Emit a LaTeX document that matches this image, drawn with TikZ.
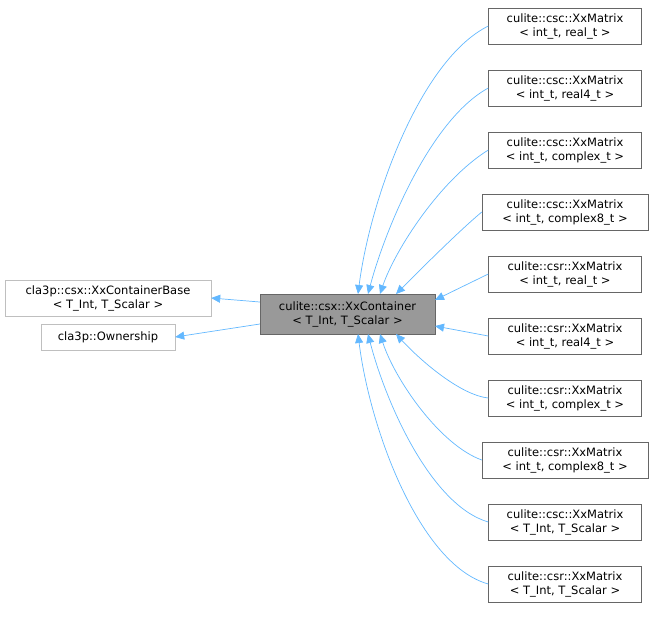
\documentclass[tikz,border=0pt]{standalone}
\usepackage{fontspec}
\setmainfont{DejaVu Sans}
\usetikzlibrary{arrows.meta}
\definecolor{edgec}{HTML}{63B8FF}
\begin{document}
\begin{tikzpicture}[x=1pt,y=-1pt,
  box/.style={draw=black!60,fill=white,align=center,inner sep=0pt,minimum height=36pt,font=\fontsize{11.5}{14}\selectfont},
  rbox/.style={box,minimum width=153pt},
  gbox/.style={box,draw=black!25,minimum height=26pt},
  e/.style={draw=edgec,line width=0.7pt,-{Triangle[length=9pt,width=8pt,fill=edgec]}}]
\useasboundingbox (0,0) rectangle (655,627);
\node[box,fill=black!40,draw=black!60,minimum width=175pt,minimum height=40pt] (c) at (347.5,314) {culite::csx::XxContainer\\< T\_Int, T\_Scalar >};
\node[gbox,minimum width=206pt,minimum height=36pt] (b1) at (108,298) {cla3p::csx::XxContainerBase\\< T\_Int, T\_Scalar >};
\node[gbox,minimum width=134pt] (b2) at (108,337) {cla3p::Ownership};
\node[rbox] (r1) at (565,26) {culite::csc::XxMatrix\\< int\_t, real\_t >};
\node[rbox] (r2) at (565,88) {culite::csc::XxMatrix\\< int\_t, real4\_t >};
\node[rbox] (r3) at (565,150) {culite::csc::XxMatrix\\< int\_t, complex\_t >};
\node[rbox,minimum width=166pt] (r4) at (565,212) {culite::csc::XxMatrix\\< int\_t, complex8\_t >};
\node[rbox] (r5) at (565,274) {culite::csr::XxMatrix\\< int\_t, real\_t >};
\node[rbox] (r6) at (565,336) {culite::csr::XxMatrix\\< int\_t, real4\_t >};
\node[rbox] (r7) at (565,398) {culite::csr::XxMatrix\\< int\_t, complex\_t >};
\node[rbox,minimum width=166pt] (r8) at (565,460) {culite::csr::XxMatrix\\< int\_t, complex8\_t >};
\node[rbox] (r9) at (565,522) {culite::csc::XxMatrix\\< T\_Int, T\_Scalar >};
\node[rbox] (r10) at (565,584) {culite::csr::XxMatrix\\< T\_Int, T\_Scalar >};
\draw[e] (c.west |- 0,302) -- (b1.east |- 0,298);
\draw[e] (c.west |- 0,324) -- (b2.east);
\draw[e] (r1.west) .. controls (420,60) and (370,200) .. (358,294);
\draw[e] (r2.west) .. controls (430,120) and (385,230) .. (368,294);
\draw[e] (r3.west) .. controls (440,180) and (395,250) .. (380,294);
\draw[e] (r4.west) .. controls (460,230) and (420,270) .. (396,294);
\draw[e] (r5.west) -- (435,300);
\draw[e] (r6.west) -- (435,326);
\draw[e] (r7.west) .. controls (460,395) and (420,360) .. (396,334);
\draw[e] (r8.west) .. controls (440,445) and (395,380) .. (380,334);
\draw[e] (r9.west) .. controls (430,505) and (385,400) .. (368,334);
\draw[e] (r10.west) .. controls (420,565) and (370,430) .. (358,334);
\end{tikzpicture}
\end{document}
